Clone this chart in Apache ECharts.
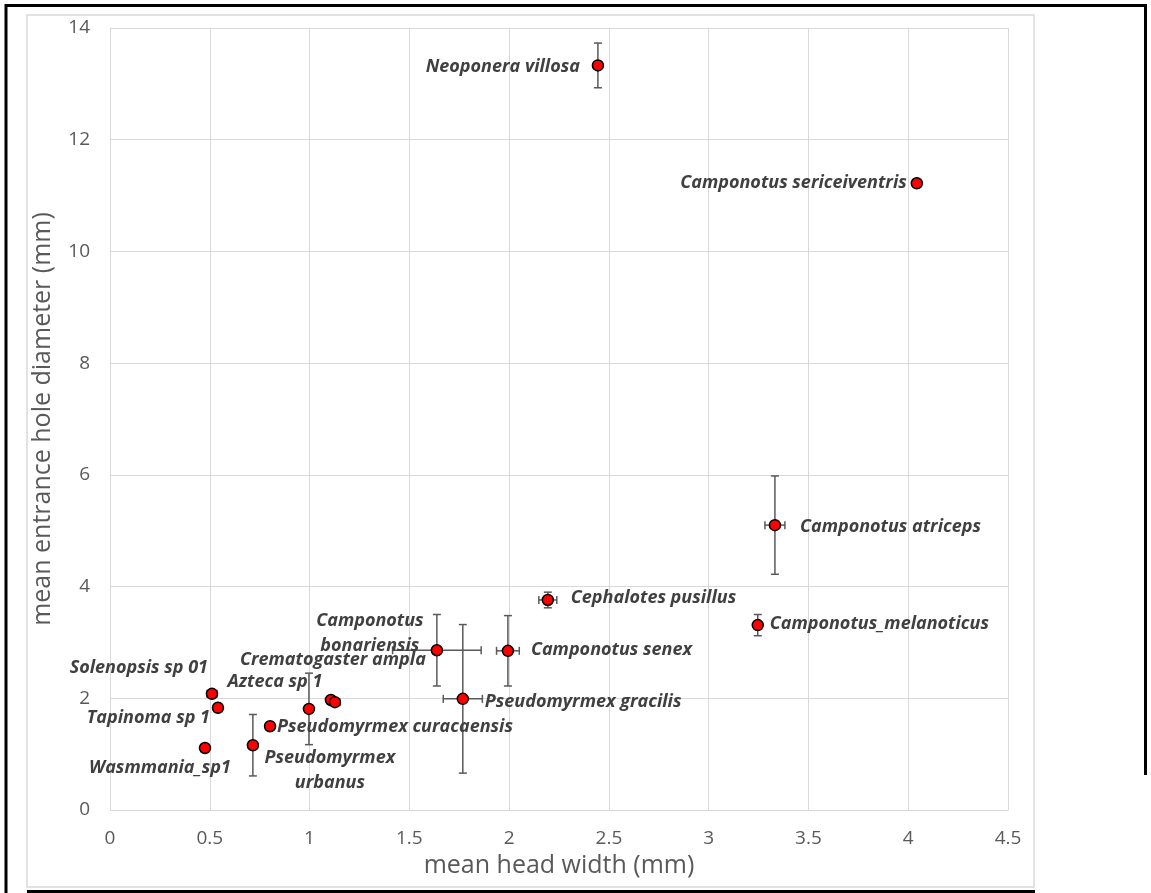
<!DOCTYPE html>
<html>
<head>
<meta charset="utf-8">
<script src="https://cdn.jsdelivr.net/npm/echarts@6/dist/echarts.min.js"></script>
<style>html,body{margin:0;padding:0;background:#fff;}#chart{width:1151px;height:893px;}</style>
</head>
<body>
<div id="chart"></div>
<script>
// ---- data ----
const names = ['Neoponera villosa','Camponotus sericeiventris','Camponotus atriceps','Cephalotes pusillus','Camponotus_melanoticus','Camponotus senex','Camponotus\nbonariensis','Pseudomyrmex gracilis','Solenopsis sp 01','Tapinoma sp 1','Wasmmania_sp1','Pseudomyrmex\nurbanus','Pseudomyrmex curacaensis','Azteca sp 1','','Crematogaster ampla'];
const headWidth = [2.445,4.043,3.332,2.194,3.246,1.994,1.638,1.768,0.511,0.541,0.476,0.716,0.802,0.997,1.107,1.127];
const holeDiameter = [13.33,11.22,5.10,3.76,3.31,2.85,2.86,1.99,2.08,1.83,1.11,1.16,1.50,1.81,1.97,1.93];
const headWidthErr = [0,0,0.05,0.045,0,0.057,0.222,0.098,0.025,0,0,0,0,0,0,0.025];
const holeDiameterErr = [0.40,0,0.88,0.14,0.19,0.63,0.64,1.33,0,0,0,0.55,0,0.64,0,0];
const xTickInterval = 0.5;
const yTickInterval = 2;

// ---- label placement (styling only) : [align, dx, dy] ----
const labelPlacement = [
  ['right',-18,1],['right',-10,0],['left',25,2],['left',23,-2],['left',12,-1],['left',23,-1],
  ['center',-67,-17],['left',22,3],['right',-4,-26],['right',-8,10],['center',-45,20],
  ['center',77,25],['left',7,1],['center',-34,-27],['left',0,0],['center',-2,-42]
];

const chart = echarts.init(document.getElementById('chart'));
const pointData = headWidth.map((x,i)=>({
  value:[x, holeDiameter[i]],
  name:names[i],
  label:{show:names[i]!=='', position:'inside', align:labelPlacement[i][0], verticalAlign:'middle',
         offset:[labelPlacement[i][1], labelPlacement[i][2]]}
}));
const errData = headWidth.map((x,i)=>[x, holeDiameter[i], headWidthErr[i], holeDiameterErr[i]]);

const labelFont = "'Open Sans', sans-serif";
chart.setOption({
  animation:false,
  backgroundColor:'#fff',
  grid:{left:110, right:143, top:28, bottom:83, show:false},
  xAxis:{type:'value', min:0, max:4.5, interval:xTickInterval,
    axisLine:{show:true, lineStyle:{color:'#d9d9d9', width:1}},
    axisTick:{show:false},
    splitLine:{show:true, lineStyle:{color:'#d9d9d9', width:1}},
    axisLabel:{color:'#595959', fontSize:19, fontFamily:labelFont, margin:19},
    name:'mean head width (mm)', nameLocation:'middle', nameGap:42,
    nameTextStyle:{color:'#595959', fontSize:25, fontFamily:labelFont}
  },
  yAxis:{type:'value', min:0, max:14, interval:yTickInterval,
    axisLine:{show:true, lineStyle:{color:'#d9d9d9', width:1}},
    axisTick:{show:false},
    splitLine:{show:true, lineStyle:{color:'#d9d9d9', width:1}},
    axisLabel:{color:'#595959', fontSize:19, fontFamily:labelFont, margin:20},
    name:'mean entrance hole diameter (mm)', nameLocation:'middle', nameGap:55,
    nameTextStyle:{color:'#595959', fontSize:25, fontFamily:labelFont}
  },
  graphic:[
    {type:'rect', shape:{x:27,y:15,width:1007,height:872}, style:{fill:'none', stroke:'#d9d9d9', lineWidth:1.5}, silent:true},
    {type:'line', shape:{x1:6,y1:4,x2:6,y2:893}, style:{stroke:'#000', lineWidth:3}},
    {type:'line', shape:{x1:5,y1:5.5,x2:1147,y2:5.5}, style:{stroke:'#000', lineWidth:3}},
    {type:'line', shape:{x1:1145.5,y1:4,x2:1145.5,y2:775}, style:{stroke:'#000', lineWidth:3}},
    {type:'line', shape:{x1:27,y1:891.5,x2:1035,y2:891.5}, style:{stroke:'#000', lineWidth:3}}
  ],
  series:[
    {type:'custom', z:2, data:errData, encode:{x:0,y:1},
     renderItem:function(params, api){
       const x=api.value(0), y=api.value(1), ex=api.value(2), ey=api.value(3);
       const st={stroke:'#595959', lineWidth:1.5};
       const ch=[]; const cap=4;
       if(ey>0){
         const t=api.coord([x,y+ey]), b=api.coord([x,y-ey]);
         ch.push({type:'line', shape:{x1:t[0],y1:t[1],x2:b[0],y2:b[1]}, style:st});
         ch.push({type:'line', shape:{x1:t[0]-cap,y1:t[1],x2:t[0]+cap,y2:t[1]}, style:st});
         ch.push({type:'line', shape:{x1:b[0]-cap,y1:b[1],x2:b[0]+cap,y2:b[1]}, style:st});
       }
       if(ex>0){
         const l=api.coord([x-ex,y]), r=api.coord([x+ex,y]);
         ch.push({type:'line', shape:{x1:l[0],y1:l[1],x2:r[0],y2:r[1]}, style:st});
         ch.push({type:'line', shape:{x1:l[0],y1:l[1]-cap,x2:l[0],y2:l[1]+cap}, style:st});
         ch.push({type:'line', shape:{x1:r[0],y1:r[1]-cap,x2:r[0],y2:r[1]+cap}, style:st});
       }
       return {type:'group', children:ch};
     }},
    {type:'scatter', z:3, data:pointData, symbol:'circle', symbolSize:11,
     itemStyle:{color:'#ff0000', borderColor:'#000', borderWidth:1.5, opacity:1},
     label:{show:true, formatter:'{b}', color:'#404040', fontSize:18, fontWeight:'bold', fontStyle:'italic',
            fontFamily:labelFont, lineHeight:25},
     emphasis:{disabled:true}
    }
  ]
});
</script>
</body>
</html>
